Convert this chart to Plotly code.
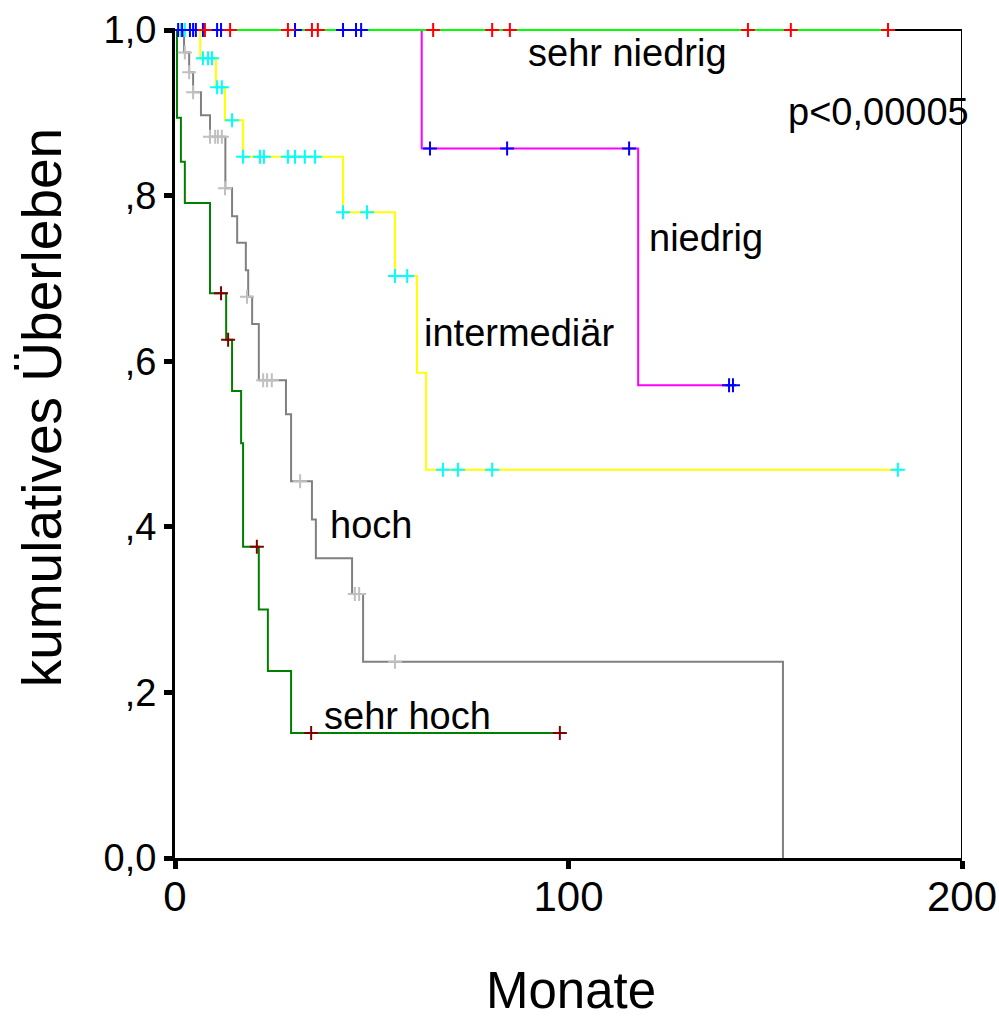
import plotly.graph_objects as go

# ---- data (months, cumulative survival) ----
# sehr niedrig
sn_t = [0, 181.2]
sn_s = [1.0, 1.0]
sn_cens_t = [7.6, 14.0, 28.7, 34.8, 36.3, 65.6, 80.6, 85.1, 145.6, 156.5, 181.2]
sn_cens_s = [1.0] * 11

# niedrig
ni_t = [0, 62.7, 117.7, 141.8]
ni_s = [1.0, 0.857, 0.571, 0.571]
ni_cens_t = [0.8, 1.8, 3.8, 4.6, 5.3, 7.1, 10.7, 11.7, 30.5, 42.7, 46.0, 47.3,
             64.8, 84.4, 115.4, 140.8, 141.8]
ni_cens_s = [1.0] * 12 + [0.857] * 3 + [0.571] * 2

# intermediär
im_t = [0, 6.4, 10.4, 12.7, 17.3, 42.7, 55.9, 61.5, 63.8, 183.7]
im_s = [1.0, 0.966, 0.931, 0.891, 0.847, 0.780, 0.703, 0.586, 0.469, 0.469]
im_cens_t = [1.5, 2.5, 7.1, 8.4, 9.4, 10.7, 11.9, 14.5,
             17.3, 21.6, 22.6, 28.7, 30.5, 33.0, 35.6,
             42.7, 48.8, 55.9, 59.0, 68.1, 71.9, 80.6, 183.7]
im_cens_s = [1.0, 1.0, 0.966, 0.966, 0.966, 0.931, 0.931, 0.891,
             0.847, 0.847, 0.847, 0.847, 0.847, 0.847, 0.847,
             0.780, 0.780, 0.703, 0.703, 0.469, 0.469, 0.469, 0.469]

# hoch
ho_t = [0, 2.3, 3.6, 4.6, 6.6, 8.9, 12.8, 14.5, 15.8, 18.0, 18.6, 19.6, 21.3,
        28.2, 29.5, 34.8, 35.8, 45.0, 47.8, 154.5]
ho_s = [1.0, 0.973, 0.949, 0.925, 0.897, 0.871, 0.809, 0.775, 0.743, 0.710,
        0.678, 0.645, 0.577, 0.536, 0.455, 0.409, 0.362, 0.319, 0.237, 0.0]
ho_cens_t = [2.5, 3.6, 4.6, 8.9, 10.2, 10.9, 11.9, 12.7, 18.3, 22.4, 23.4, 24.6,
             31.8, 45.7, 46.8, 55.9]
ho_cens_s = [0.973, 0.949, 0.925, 0.871, 0.871, 0.871, 0.871, 0.809, 0.678,
             0.577, 0.577, 0.577, 0.455, 0.319, 0.319, 0.237]

# sehr hoch
sh_t = [0, 0.5, 1.5, 2.5, 8.9, 13.0, 14.5, 16.8, 17.3, 21.3, 23.6, 29.5, 97.8]
sh_s = [1.0, 0.894, 0.841, 0.791, 0.682, 0.626, 0.564, 0.501, 0.376, 0.300,
        0.226, 0.151, 0.151]
sh_cens_t = [11.7, 13.5, 20.8, 34.6, 97.8]
sh_cens_s = [0.682, 0.626, 0.376, 0.151, 0.151]

y_tickvals = [0, 0.2, 0.4, 0.6, 0.8, 1.0]
y_ticktext = ["0,0", ",2", ",4", ",6", ",8", "1,0"]
x_tickvals = [0, 100, 200]
x_ticktext = ["0", "100", "200"]

groups = [
    ("sehr hoch", sh_t, sh_s, sh_cens_t, sh_cens_s, "#008000", "#800000"),
    ("hoch", ho_t, ho_s, ho_cens_t, ho_cens_s, "#808080", "#c0c0c0"),
    ("intermediär", im_t, im_s, im_cens_t, im_cens_s, "#ffff00", "#00ffff"),
    ("niedrig", ni_t, ni_s, ni_cens_t, ni_cens_s, "#ff00ff", "#0000ff"),
    ("sehr niedrig", sn_t, sn_s, sn_cens_t, sn_cens_s, "#00ff00", "#ff0000"),
]

fig = go.Figure()
for name, t, s, ct, cs, lc, mc in groups:
    fig.add_trace(go.Scatter(x=t, y=s, mode="lines", line=dict(color=lc, width=2, shape="hv"),
                             name=name, showlegend=False, hoverinfo="skip"))
for name, t, s, ct, cs, lc, mc in groups:
    fig.add_trace(go.Scatter(x=ct, y=cs, mode="markers", cliponaxis=False,
                             marker=dict(symbol="cross-thin", size=10, line=dict(color=mc, width=2)),
                             name=name + " zensiert", showlegend=False, hoverinfo="skip"))

FONT = "Liberation Sans, Arial, sans-serif"
# frame (top and right)
fig.add_shape(type="line", xref="x", yref="y", x0=0, x1=200, y0=1, y1=1,
              line=dict(color="black", width=2), layer="below")
fig.add_shape(type="line", xref="x", yref="y", x0=200, x1=200, y0=0, y1=1,
              line=dict(color="black", width=2), layer="below")

labels = [
    ("sehr niedrig", 114.9, 0.972),
    ("p<0,00005", 178.8, 0.901),
    ("niedrig", 135.0, 0.749),
    ("intermediär", 87.4, 0.634),
    ("hoch", 49.8, 0.402),
    ("sehr hoch", 59.0, 0.171),
]
for txt, lx, ly in labels:
    fig.add_annotation(x=lx, y=ly, xref="x", yref="y", text=txt, showarrow=False,
                       xanchor="center", yanchor="middle",
                       font=dict(family=FONT, size=38, color="black"))

fig.add_annotation(x=0.503, y=-0.196, xref="paper", yref="paper", text="Monate",
                   xanchor="center", yanchor="bottom",
                   showarrow=False, font=dict(family=FONT, size=51, color="black"))
fig.add_annotation(x=-0.169, y=0.543, xref="paper", yref="paper", text="kumulatives Überleben",
                   xanchor="center", yanchor="middle",
                   textangle=-90, showarrow=False, font=dict(family=FONT, size=55, color="black"))

fig.update_layout(
    width=999, height=1023,
    margin=dict(l=175, r=37, t=28, b=165),
    paper_bgcolor="white", plot_bgcolor="white",
    showlegend=False,
    xaxis=dict(range=[0, 200], tickvals=x_tickvals, ticktext=x_ticktext, automargin=False,
               showgrid=False, zeroline=False, showline=True, linecolor="black", linewidth=3,
               ticks="outside", ticklen=8, tickwidth=5, tickcolor="black",
               ticklabelstandoff=-8,
               tickfont=dict(family=FONT, size=42, color="black")),
    yaxis=dict(range=[0, 1.0025], tickvals=y_tickvals, ticktext=y_ticktext, automargin=False,
               showgrid=False, zeroline=False, showline=True, linecolor="black", linewidth=3,
               ticks="outside", ticklen=8, tickwidth=5, tickcolor="black",
               tickfont=dict(family=FONT, size=38, color="black")),
)

fig.write_html("out.html")
